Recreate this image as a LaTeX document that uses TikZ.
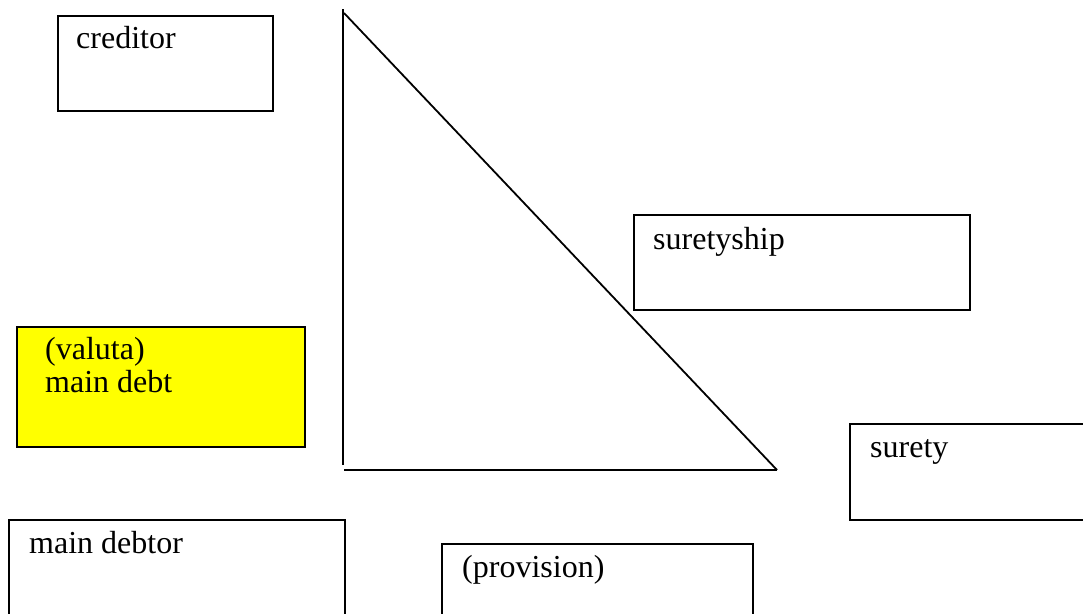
\documentclass[tikz,border=0pt]{standalone}
\usepackage{fontspec}
\setmainfont{Liberation Serif}
\definecolor{boxyellow}{RGB}{255,255,0}
\begin{document}
\begin{tikzpicture}[x=1pt,y=-1pt,
  box/.style={draw=black,line width=2pt,anchor=north west,inner sep=0pt,minimum width=#1},
  lbl/.style={anchor=base west,inner sep=0pt,font=\fontsize{32}{33}\selectfont,align=left},
  edge/.style={draw=black,line width=1.8pt}]
\useasboundingbox (0,0) rectangle (1083,613);
\clip (0,0) rectangle (1083,613);
\fill[white] (0,0) rectangle (1083,613);
% boxes
\node[box=215pt,minimum height=95pt] (creditor) at (57,15) {};
\node[box=336pt,minimum height=95pt] (suretyship) at (633,214) {};
\node[box=288pt,minimum height=120pt,fill=boxyellow] (maindebt) at (16,326) {};
\node[box=260pt,minimum height=96pt] (surety) at (849,423) {};
\node[box=336pt,minimum height=120pt] (maindebtor) at (8,519) {};
\node[box=311pt,minimum height=100pt] (provision) at (441,543) {};
% labels
\node[lbl] (creditor-t) at (76,48) {creditor};
\node[lbl] (suretyship-t) at (653,249) {suretyship};
\node[lbl] (maindebt-t) at (45,392) {(valuta)\\main debt};
\node[lbl] (surety-t) at (870,457) {surety};
\node[lbl] (maindebtor-t) at (29,553) {main debtor};
\node[lbl] (provision-t) at (462,577) {(provision)};
% triangle
\coordinate (vtop) at (343,9);
\coordinate (vbot) at (343,465);
\coordinate (dtop) at (344,13);
\coordinate (hleft) at (344,470);
\coordinate (hright) at (777,470);
\draw[edge] (vtop) -- (vbot);
\draw[edge] (dtop) -- (hright);
\draw[edge] (hleft) -- (hright);
\end{tikzpicture}
\end{document}
